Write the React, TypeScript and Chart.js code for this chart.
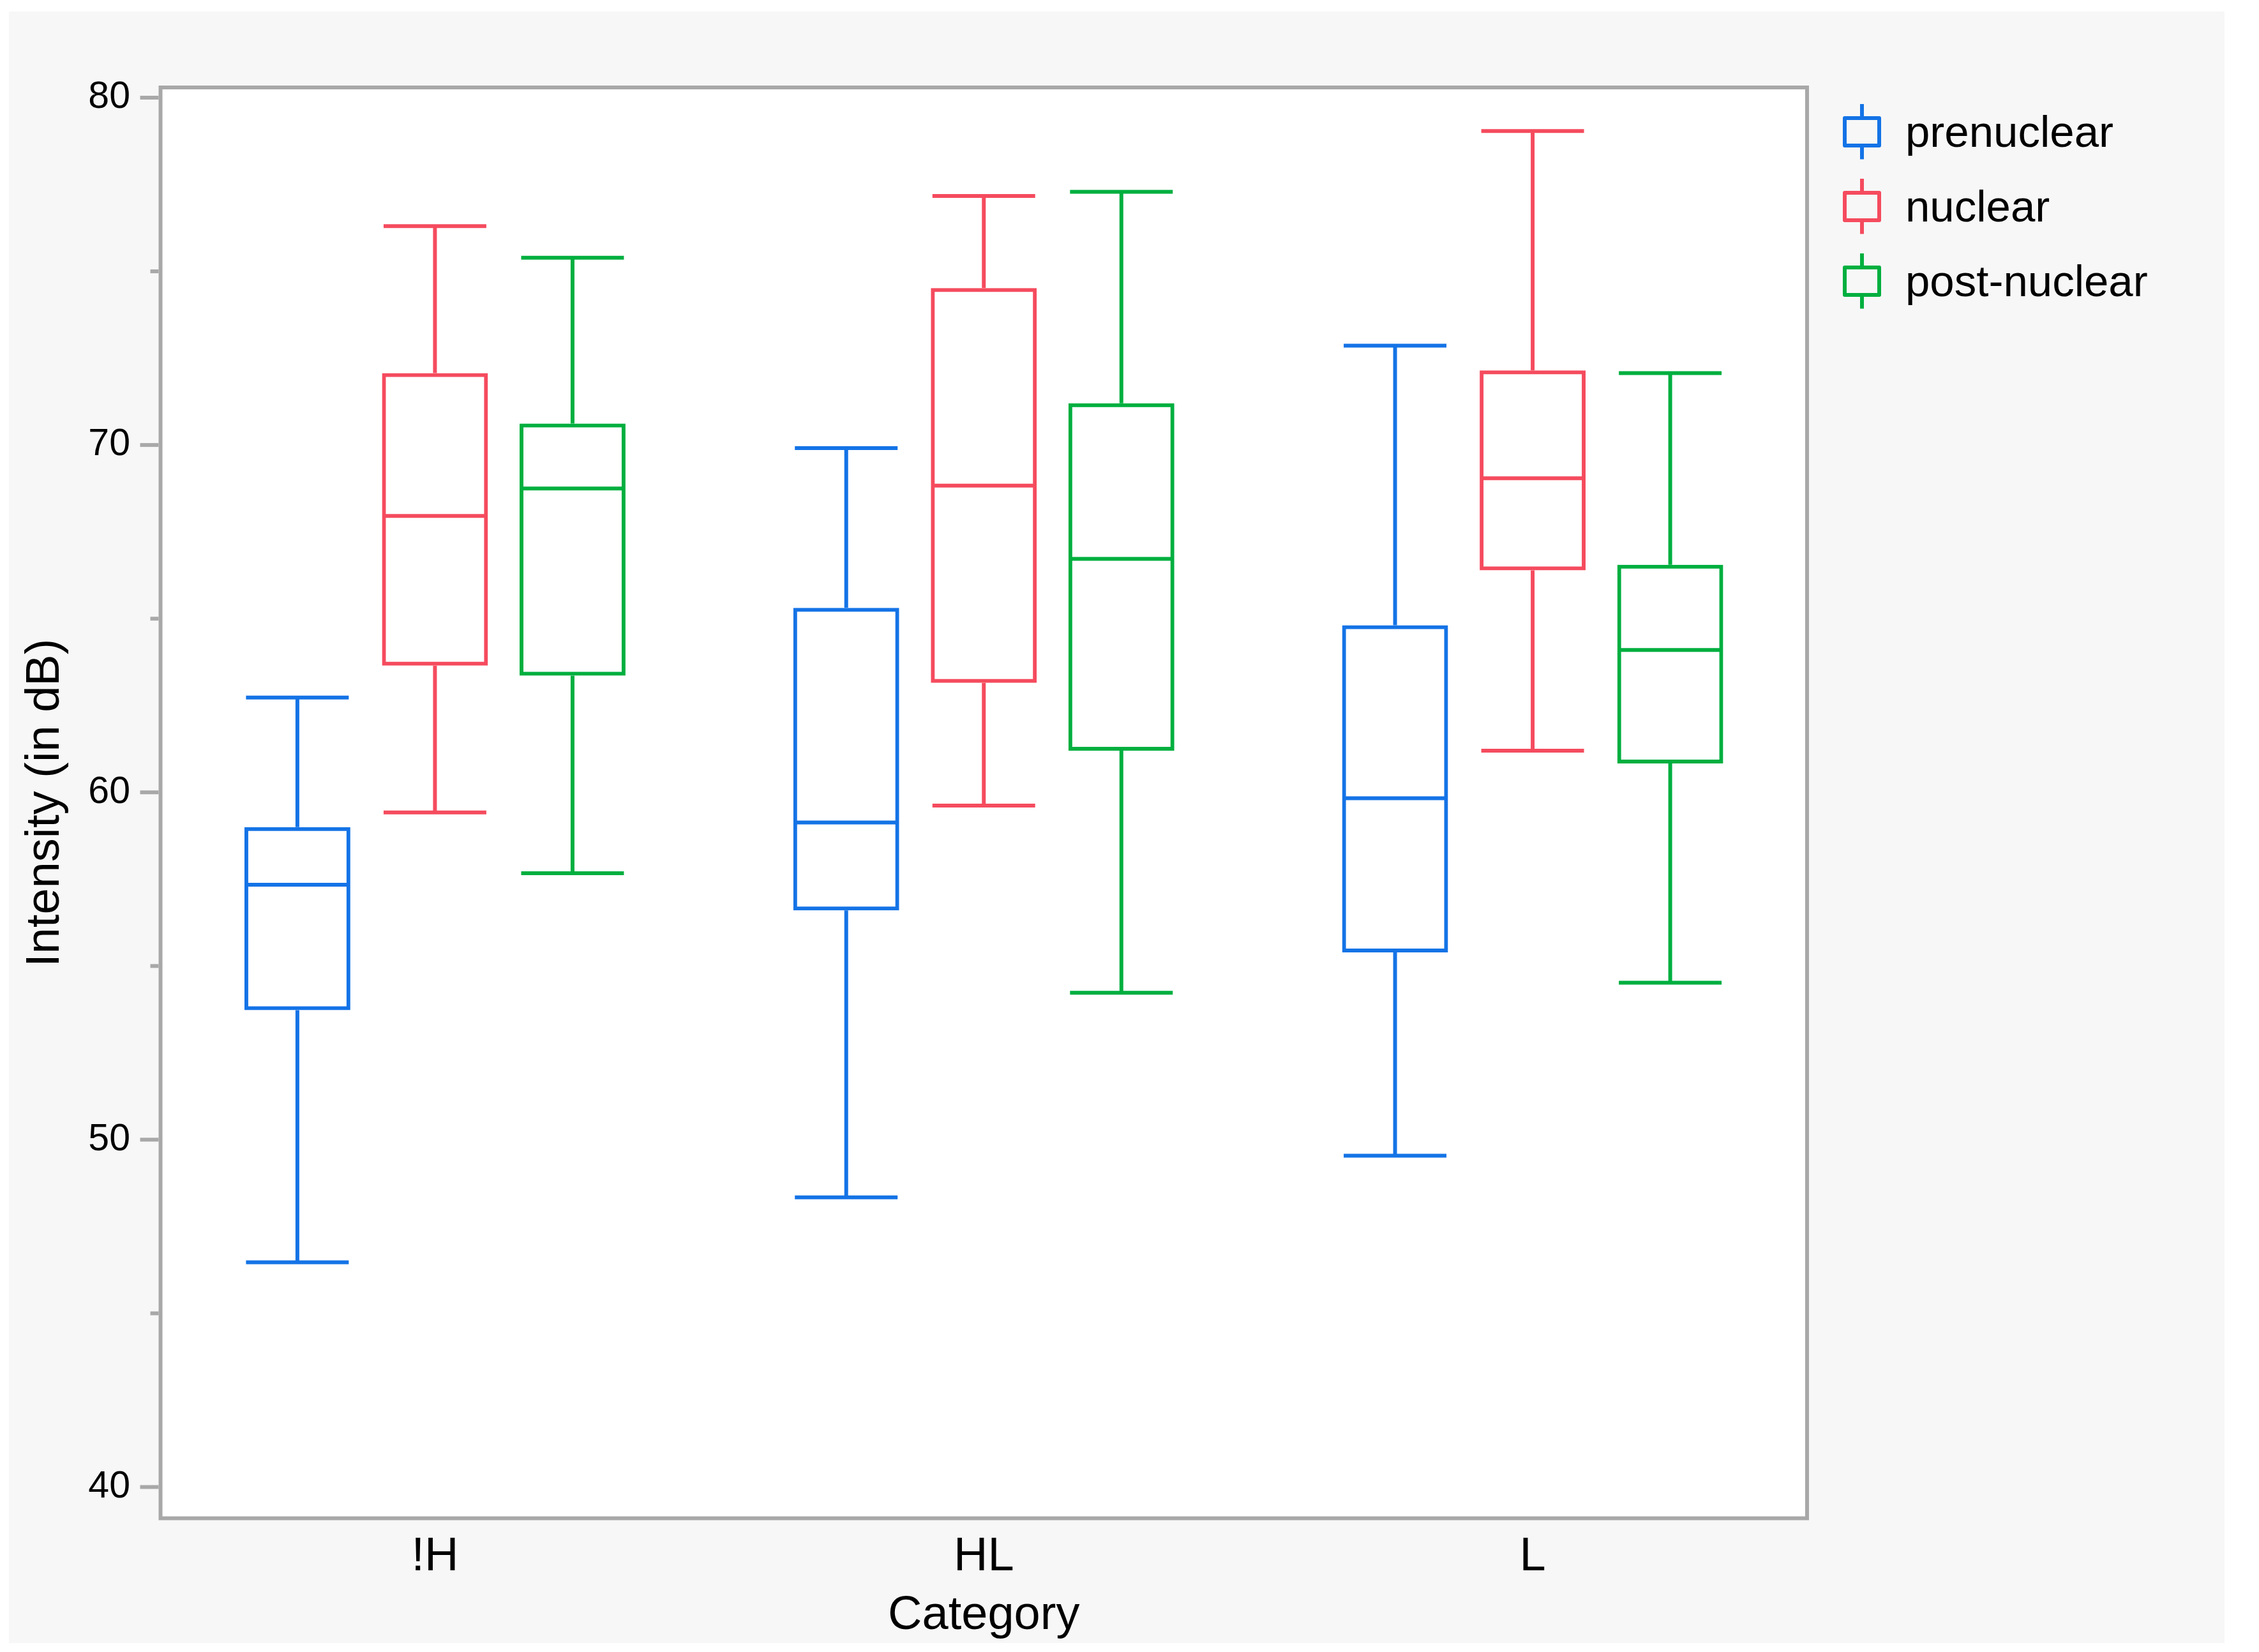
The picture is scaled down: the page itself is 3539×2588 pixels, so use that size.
import React, { useEffect, useRef } from 'react';
import { Chart, registerables } from 'chart.js';

Chart.register(...registerables);

// ---- Data ----
const categories = ['!H', 'HL', 'L'];
const seriesLabels = ['prenuclear', 'nuclear', 'post-nuclear'];
const seriesColors = ['#1473E6', '#F54B5E', '#00AF3F'];

const prenuclearMin = [46.47, 48.34, 49.54];
const prenuclearQ1 = [53.73, 56.6, 55.39];
const prenuclearMedian = [57.34, 59.13, 59.83];
const prenuclearQ3 = [59.0, 65.31, 64.81];
const prenuclearMax = [62.73, 69.91, 72.86];

const nuclearMin = [59.42, 59.62, 61.2];
const nuclearQ1 = [63.65, 63.15, 66.39];
const nuclearMedian = [67.96, 68.83, 69.04];
const nuclearQ3 = [72.07, 74.52, 72.15];
const nuclearMax = [76.3, 77.17, 79.04];

const postMin = [57.67, 54.23, 54.52];
const postQ1 = [63.36, 61.2, 60.83];
const postMedian = [68.75, 66.72, 64.1];
const postQ3 = [70.62, 71.2, 66.55];
const postMax = [75.39, 77.29, 72.07];

const yMin = 39.1;
const yMax = 80.294;
const yTickStep = 5;
const yLabelStep = 10;

const xTitle = 'Category';
const yTitle = 'Intensity (in dB)';

// ---- Styling ----
const FONT = "'Liberation Sans', Arial, Helvetica, sans-serif";
const PANEL_BG = '#f7f7f7';
const FRAME = '#a8a8a8';
const LINE_W = 6;

const stats = [
  { min: prenuclearMin, q1: prenuclearQ1, med: prenuclearMedian, q3: prenuclearQ3, max: prenuclearMax },
  { min: nuclearMin, q1: nuclearQ1, med: nuclearMedian, q3: nuclearQ3, max: nuclearMax },
  { min: postMin, q1: postQ1, med: postMedian, q3: postQ3, max: postMax },
];

function seg(ctx: CanvasRenderingContext2D, x1: number, y1: number, x2: number, y2: number) {
  ctx.beginPath();
  ctx.moveTo(x1, y1);
  ctx.lineTo(x2, y2);
  ctx.stroke();
}

const boxPlugin = {
  id: 'boxWhiskers',
  beforeDraw(chart: any) {
    const { ctx, chartArea: a, width, height } = chart;
    ctx.save();
    ctx.fillStyle = PANEL_BG;
    ctx.fillRect(0, 0, width, height);
    ctx.fillStyle = '#ffffff';
    ctx.fillRect(a.left, a.top, a.right - a.left, a.bottom - a.top);
    ctx.restore();
  },
  afterDatasetsDraw(chart: any) {
    const { ctx, chartArea: a } = chart;
    const ys = chart.scales.y;
    ctx.save();
    ctx.lineCap = 'butt';
    ctx.lineWidth = LINE_W;
    chart.data.datasets.forEach((ds: any, i: number) => {
      const meta = chart.getDatasetMeta(i);
      const st = stats[i];
      ctx.strokeStyle = ds.borderColor;
      meta.data.forEach((el: any, j: number) => {
        const { x, width } = el.getProps(['x', 'width'], true);
        const half = width / 2 - 2.5;
        const pMed = ys.getPixelForValue(st.med[j]);
        const pQ1 = ys.getPixelForValue(st.q1[j]);
        const pQ3 = ys.getPixelForValue(st.q3[j]);
        const pMin = ys.getPixelForValue(st.min[j]);
        const pMax = ys.getPixelForValue(st.max[j]);
        seg(ctx, x - half, pMed, x + half, pMed);
        seg(ctx, x, pQ3, x, pMax);
        seg(ctx, x, pQ1, x, pMin);
        seg(ctx, x - half, pMax, x + half, pMax);
        seg(ctx, x - half, pMin, x + half, pMin);
      });
    });
    // frame
    ctx.strokeStyle = FRAME;
    ctx.lineWidth = LINE_W;
    ctx.lineJoin = 'miter';
    ctx.strokeRect(a.left, a.top, a.right - a.left, a.bottom - a.top);
    // y tick marks
    ys.ticks.forEach((t: any) => {
      const py = ys.getPixelForValue(t.value);
      const len = Math.abs(t.value % yLabelStep) < 1e-6 ? 29 : 13;
      seg(ctx, a.left - 3 - len, py, a.left - 3, py);
    });
    ctx.restore();
  },
  afterDraw(chart: any) {
    const { ctx } = chart;
    const cx = 2903;
    const y0 = 188.5;
    const dy = 117;
    ctx.save();
    chart.data.datasets.forEach((ds: any, i: number) => {
      const cy = y0 + i * dy;
      ctx.strokeStyle = ds.borderColor;
      ctx.lineWidth = LINE_W;
      ctx.lineJoin = 'round';
      ctx.strokeRect(cx - 27, cy - 21.5, 54, 43);
      ctx.lineCap = 'butt';
      seg(ctx, cx, cy - 24.5, cx, cy - 43.5);
      seg(ctx, cx, cy + 24.5, cx, cy + 43);
      ctx.fillStyle = '#000000';
      ctx.font = `69px ${FONT}`;
      ctx.textAlign = 'left';
      ctx.textBaseline = 'alphabetic';
      ctx.fillText(ds.label, 2971, cy + 23.5);
    });
    ctx.restore();
  },
};

export default function App() {
  const ref = useRef<HTMLCanvasElement | null>(null);

  useEffect(() => {
    if (!ref.current) return;
    const datasets = seriesLabels.map((label, i) => ({
      label,
      data: stats[i].q1.map((q1, j) => [q1, stats[i].q3[j]]),
      borderColor: seriesColors[i],
      backgroundColor: 'rgba(255,255,255,0)',
      borderWidth: LINE_W,
      borderSkipped: false,
      categoryPercentage: 0.752,
      barPercentage: 0.77,
    }));

    const chart = new Chart(ref.current, {
      type: 'bar',
      data: { labels: categories, datasets: datasets as any },
      options: {
        responsive: false,
        devicePixelRatio: 1,
        animation: false,
        layout: { padding: { left: 0, top: 119, right: 654, bottom: 0 } },
        plugins: {
          legend: { display: false },
          tooltip: { enabled: false },
        },
        scales: {
          x: {
            type: 'category',
            offset: true,
            grid: { display: false, drawTicks: false, tickLength: 0 },
            border: { display: false },
            ticks: {
              padding: 17,
              color: '#000000',
              font: { family: FONT, size: 74 },
            },
            title: {
              display: true,
              text: xTitle,
              color: '#000000',
              font: { family: FONT, size: 74, lineHeight: 1.15 },
              padding: { top: 0, bottom: 0 },
            },
            afterFit: (scale: any) => {
              scale.height = 195.5;
            },
          },
          y: {
            type: 'linear',
            min: yMin,
            max: yMax,
            grid: { display: false, drawTicks: false, tickLength: 0 },
            border: { display: false },
            ticks: {
              stepSize: yTickStep,
              includeBounds: false,
              padding: 47.5,
              color: '#000000',
              font: { family: FONT, size: 59 },
              callback: (v: any) => (Math.abs(Number(v) % yLabelStep) < 1e-6 ? String(v) : ''),
            },
            title: {
              display: true,
              text: yTitle,
              color: '#000000',
              font: { family: FONT, size: 74 },
              padding: { top: 13, bottom: 0 },
            },
            afterFit: (scale: any) => {
              scale.width = 237.5;
            },
          },
        },
      },
      plugins: [boxPlugin],
    });
    return () => chart.destroy();
  }, []);

  return (
    <div style={{ position: 'absolute', left: 0, top: 0, width: 3539, height: 2588, background: '#ffffff' }}>
      <canvas
        ref={ref}
        width={3471}
        height={2556}
        style={{ position: 'absolute', left: 14, top: 18, width: 3471, height: 2556 }}
      />
    </div>
  );
}
